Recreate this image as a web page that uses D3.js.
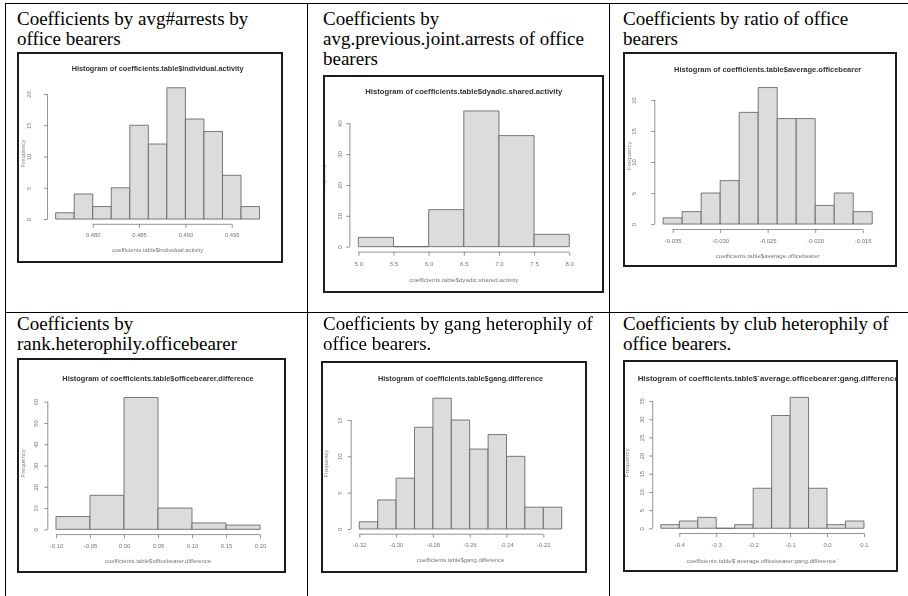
<!DOCTYPE html>
<html><head><meta charset="utf-8">
<script src="https://cdn.jsdelivr.net/npm/d3@7"></script>
<style>
html,body{margin:0;padding:0;background:#fff;}
svg{display:block;}
.caption{font-family:"Liberation Serif","Times New Roman",Times,serif;font-size:19px;fill:#000;}
.plottext{font-family:"Liberation Sans",Arial,Helvetica,sans-serif;}
</style></head><body>
<svg id="chart" width="908" height="596"></svg>
<script>
// Cell captions, one array of lines per cell
const captions = [
  ["Coefficients by avg#arrests by", "office bearers"],
  ["Coefficients by", "avg.previous.joint.arrests of office", "bearers"],
  ["Coefficients by ratio of office", "bearers"],
  ["Coefficients by", "rank.heterophily.officebearer"],
  ["Coefficients by gang heterophily of", "office bearers."],
  ["Coefficients by club heterophily of", "office bearers."]
];
const titles = [
  "Histogram of coefficients.table$individual.activity",
  "Histogram of coefficients.table$dyadic.shared.activity",
  "Histogram of coefficients.table$average.officebearer",
  "Histogram of coefficients.table$officebearer.difference",
  "Histogram of coefficients.table$gang.difference",
  "Histogram of coefficients.table$`average.officebearer:gang.difference`"
];
const xLabels = [
  "coefficients.table$individual.activity",
  "coefficients.table$dyadic.shared.activity",
  "coefficients.table$average.officebearer",
  "coefficients.table$officebearer.difference",
  "coefficients.table$gang.difference",
  "coefficients.table$`average.officebearer:gang.difference`"
];

// Histogram 1: individual.activity
const breaks1 = [0.476, 0.478, 0.480, 0.482, 0.484, 0.486, 0.488, 0.490, 0.492, 0.494, 0.496, 0.498];
const counts1 = [1, 4, 2, 5, 15, 12, 21, 16, 14, 7, 2];
const xTicks1 = [0.480, 0.485, 0.490, 0.495];
const xTickLabels1 = ["0.480", "0.485", "0.490", "0.495"];
const yTicks1 = [0, 5, 10, 15, 20];

// Histogram 2: dyadic.shared.activity
const breaks2 = [5.0, 5.5, 6.0, 6.5, 7.0, 7.5, 8.0];
const counts2 = [3, 0, 12, 44, 36, 4];
const xTicks2 = [5.0, 5.5, 6.0, 6.5, 7.0, 7.5, 8.0];
const xTickLabels2 = ["5.0", "5.5", "6.0", "6.5", "7.0", "7.5", "8.0"];
const yTicks2 = [0, 10, 20, 30, 40];

// Histogram 3: average.officebearer
const breaks3 = [-0.036, -0.034, -0.032, -0.030, -0.028, -0.026, -0.024, -0.022, -0.020, -0.018, -0.016, -0.014];
const counts3 = [1, 2, 5, 7, 18, 22, 17, 17, 3, 5, 2];
const xTicks3 = [-0.035, -0.030, -0.025, -0.020, -0.015];
const xTickLabels3 = ["-0.035", "-0.030", "-0.025", "-0.020", "-0.015"];
const yTicks3 = [0, 5, 10, 15, 20];

// Histogram 4: officebearer.difference
const breaks4 = [-0.10, -0.05, 0.00, 0.05, 0.10, 0.15, 0.20];
const counts4 = [6, 16, 62, 10, 3, 2];
const xTicks4 = [-0.10, -0.05, 0.00, 0.05, 0.10, 0.15, 0.20];
const xTickLabels4 = ["-0.10", "-0.05", "0.00", "0.05", "0.10", "0.15", "0.20"];
const yTicks4 = [0, 10, 20, 30, 40, 50, 60];

// Histogram 5: gang.difference
const breaks5 = [-0.32, -0.31, -0.30, -0.29, -0.28, -0.27, -0.26, -0.25, -0.24, -0.23, -0.22, -0.21];
const counts5 = [1, 4, 7, 14, 18, 15, 11, 13, 10, 3, 3];
const xTicks5 = [-0.32, -0.30, -0.28, -0.26, -0.24, -0.22];
const xTickLabels5 = ["-0.32", "-0.30", "-0.28", "-0.26", "-0.24", "-0.22"];
const yTicks5 = [0, 5, 10, 15];

// Histogram 6: average.officebearer:gang.difference
const breaks6 = [-0.45, -0.40, -0.35, -0.30, -0.25, -0.20, -0.15, -0.10, -0.05, 0.00, 0.05, 0.10];
const counts6 = [1, 2, 3, 0, 1, 11, 31, 36, 11, 1, 2];
const xTicks6 = [-0.4, -0.3, -0.2, -0.1, 0.0, 0.1];
const xTickLabels6 = ["-0.4", "-0.3", "-0.2", "-0.1", "0.0", "0.1"];
const yTicks6 = [0, 5, 10, 15, 20, 25, 30, 35];

const hists = [
  {breaks: breaks1, counts: counts1, xTicks: xTicks1, xTickLabels: xTickLabels1, yTicks: yTicks1},
  {breaks: breaks2, counts: counts2, xTicks: xTicks2, xTickLabels: xTickLabels2, yTicks: yTicks2},
  {breaks: breaks3, counts: counts3, xTicks: xTicks3, xTickLabels: xTickLabels3, yTicks: yTicks3},
  {breaks: breaks4, counts: counts4, xTicks: xTicks4, xTickLabels: xTickLabels4, yTicks: yTicks4},
  {breaks: breaks5, counts: counts5, xTicks: xTicks5, xTickLabels: xTickLabels5, yTicks: yTicks5},
  {breaks: breaks6, counts: counts6, xTicks: xTicks6, xTickLabels: xTickLabels6, yTicks: yTicks6}
];

// Placement of each cell: caption origin, picture frame, plotting region [left, right, top, bottom],
// title position, and distance of the y tick labels from the axis
const cells = [
  {cap: [17, 25],  frame: [17, 52, 266, 211],  plot: [47.5, 267.7, 82.5, 224.3],  titleY: 68.5,  titleDX: 0, titleSize: 7.3,  yLab: 17},
  {cap: [323, 25], frame: [323, 75, 281, 218], plot: [349.9, 577.7, 105.5, 252.1], titleY: 91,    titleDX: 0, titleSize: 7.7,  yLab: 7.5},
  {cap: [623, 25], frame: [623, 52, 274, 215], plot: [654.8, 880.6, 82.1, 229.5], titleY: 69.5,  titleDX: 0, titleSize: 7.5,  yLab: 18.5},
  {cap: [17, 330], frame: [17, 358, 269, 215], plot: [47.8, 268.2, 392.2, 534.6], titleY: 378.5, titleDX: 0, titleSize: 7.4,  yLab: 9.5},
  {cap: [323, 330], frame: [321, 361, 266, 212], plot: [351.2, 569.8, 393, 534.2], titleY: 378.5, titleDX: 0, titleSize: 7.3, yLab: 9},
  {cap: [623, 330], frame: [623, 360, 275, 212], plot: [652.7, 872.1, 392.1, 533.5], titleY: 378.5, titleDX: 7, titleSize: 7.9, yLab: 9}
];

const svg = d3.select("#chart");

// Table rules
const rules = svg.append("g").attr("stroke", "#000").attr("stroke-width", 1);
rules.append("line").attr("x1", 5.5).attr("x2", 908).attr("y1", 3.5).attr("y2", 3.5);
rules.append("line").attr("x1", 5.5).attr("x2", 908).attr("y1", 312.5).attr("y2", 312.5);
[5.5, 307.5, 609.5].forEach(xv =>
  rules.append("line").attr("x1", xv).attr("x2", xv).attr("y1", 3).attr("y2", 596));

// Soft rendering of the embedded plot pictures
const defs = svg.append("defs");
defs.append("filter").attr("id", "soft").attr("x", "-5%").attr("y", "-5%").attr("width", "110%").attr("height", "110%")
  .append("feGaussianBlur").attr("stdDeviation", 0.3);

cells.forEach((c, i) => {
  // caption
  const cap = svg.append("text").attr("class", "caption");
  captions[i].forEach((line, k) =>
    cap.append("tspan").attr("x", c.cap[0]).attr("y", c.cap[1] + k * 20.2).text(line));

  const [fx, fy, fw, fh] = c.frame;
  const s = fw / 266;            // scale of the embedded picture
  const clipId = "clip" + i;
  defs.append("clipPath").attr("id", clipId)
    .append("rect").attr("x", fx).attr("y", fy).attr("width", fw).attr("height", fh);

  const g = svg.append("g").attr("clip-path", `url(#${clipId})`);
  const inner = g.append("g").attr("filter", "url(#soft)").attr("class", "plottext");
  inner.append("rect").attr("x", fx).attr("y", fy).attr("width", fw).attr("height", fh).attr("fill", "#fff");

  const h = hists[i];
  const [pl, pr, pt, pb] = c.plot;
  const b0 = h.breaks[0], bn = h.breaks[h.breaks.length - 1];
  const ext = 0.04 * (bn - b0);
  const ymax = d3.max(h.counts);
  const x = d3.scaleLinear().domain([b0 - ext, bn + ext]).range([pl, pr]);
  const y = d3.scaleLinear().domain([-0.04 * ymax, 1.04 * ymax]).range([pb, pt]);

  // bars (paths so empty bins still show as a flat line)
  inner.append("g").selectAll("path").data(h.counts).join("path")
    .attr("d", (d, k) => {
      const x0 = x(h.breaks[k]), x1 = x(h.breaks[k + 1]), y0 = y(0), y1 = y(d);
      return `M${x0},${y0}H${x1}V${y1}H${x0}Z`;
    })
    .attr("fill", "#dcdcdc").attr("stroke", "#5a5a5a").attr("stroke-width", 0.8);

  // x axis
  const xa = inner.append("g").attr("transform", `translate(0,${pb})`)
    .call(d3.axisBottom(x).tickValues(h.xTicks).tickFormat((d, k) => h.xTickLabels[k])
      .tickSize(3.5 * s).tickPadding(5.5 * s).tickSizeOuter(0));
  xa.attr("font-family", null).attr("font-size", null);
  xa.select(".domain").remove();
  xa.append("line").attr("x1", x(h.xTicks[0])).attr("x2", x(h.xTicks[h.xTicks.length - 1]))
    .attr("stroke", "#777").attr("stroke-width", 0.8);
  xa.selectAll(".tick line").attr("stroke", "#777").attr("stroke-width", 0.8);
  xa.selectAll("text").attr("fill", "#777").attr("font-size", 5.8 * s);

  // y axis with labels parallel to the axis
  const ya = inner.append("g").attr("transform", `translate(${pl},0)`)
    .call(d3.axisLeft(y).tickValues(h.yTicks).tickSize(3.5 * s).tickSizeOuter(0));
  ya.attr("font-family", null).attr("font-size", null);
  ya.select(".domain").remove();
  ya.append("line").attr("y1", y(h.yTicks[0])).attr("y2", y(h.yTicks[h.yTicks.length - 1]))
    .attr("stroke", "#777").attr("stroke-width", 0.8);
  ya.selectAll(".tick line").attr("stroke", "#777").attr("stroke-width", 0.8);
  ya.selectAll("text").attr("fill", "#777").attr("font-size", 5.8 * s)
    .attr("x", null).attr("dy", null).attr("text-anchor", "middle")
    .attr("transform", `translate(${-c.yLab},0) rotate(-90)`);

  // titles
  inner.append("text").attr("x", (pl + pr) / 2 + c.titleDX).attr("y", c.titleY).attr("dy", "0.35em")
    .attr("text-anchor", "middle").attr("font-weight", "bold").attr("font-size", c.titleSize)
    .attr("fill", "#333").text(titles[i]);
  inner.append("text").attr("x", (pl + pr) / 2).attr("y", pb + 26 * s).attr("dy", "0.35em")
    .attr("text-anchor", "middle").attr("font-size", 5.9 * s).attr("fill", "#777")
    .text(xLabels[i]);
  inner.append("text").attr("transform", `translate(${pl - 25 * s},${(pt + pb) / 2}) rotate(-90)`)
    .attr("dy", "0.35em").attr("text-anchor", "middle").attr("font-size", 5.9 * s).attr("fill", "#888")
    .text("Frequency");

  // picture frame
  g.append("rect").attr("x", fx + 1).attr("y", fy + 1).attr("width", fw - 2).attr("height", fh - 2)
    .attr("fill", "none").attr("stroke", "#1c1c1c").attr("stroke-width", 2);
});
</script>
</body></html>
